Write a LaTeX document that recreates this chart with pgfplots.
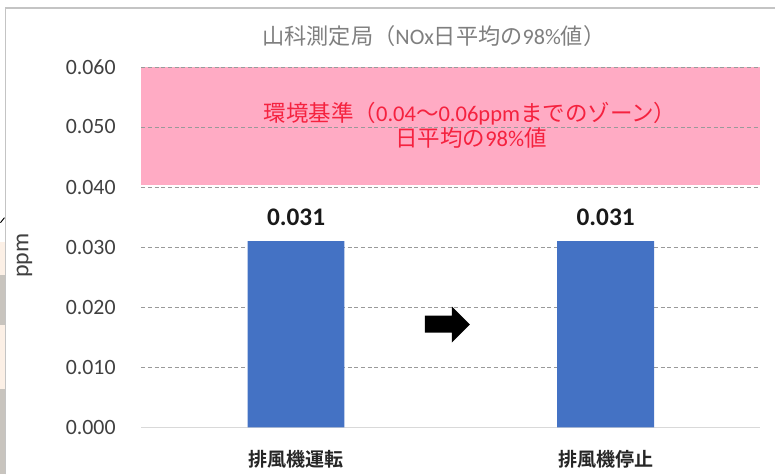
\documentclass[border=0pt]{standalone}
\usepackage{pgfplots}
\pgfplotsset{compat=1.18}
\usepackage{fontspec}
\setmainfont{Carlito}
\newfontfamily\cjk{Noto Sans CJK JP}
\newfontfamily\cjkb{Noto Sans CJK JP Bold}
\definecolor{zone}{HTML}{FFABC4}
\definecolor{zonetext}{HTML}{F5223F}
\definecolor{barblue}{HTML}{4472C4}
\definecolor{titlegray}{HTML}{7F7F7F}
\definecolor{ticktext}{HTML}{404040}
\definecolor{framegray}{HTML}{C4C4C4}
\definecolor{gridgray}{HTML}{9A9A9A}
\definecolor{stripbeige}{HTML}{FCF0E6}
\definecolor{stripgray}{HTML}{C8C4BE}
\begin{document}
\begin{tikzpicture}[x=0.75pt,y=0.75pt]
  % page area and chart frame (units are pixels, origin at lower left)
  \path (0,0) rectangle (776,475);
  \fill[stripbeige] (0,0) rectangle (4.5,233);
  \fill[stripgray] (0,0) rectangle (4.5,85);
  \fill[stripgray] (0,150) rectangle (4.5,200);
  \draw[black,line width=0.7pt] (0,252) -- (4,257);
  \draw[framegray,line width=0.9pt] (5,0) -- (5,467) -- (776,467);
  \begin{axis}[
    at={(105.75pt,35.25pt)}, anchor=south west,
    scale only axis, width=465pt, height=270.75pt,
    set layers,
    xmin=-0.5, xmax=1.5, ymin=0, ymax=0.06,
    xtick={0,1}, xticklabels={{\cjkb 排風機運転},{\cjkb 排風機停止}},
    ytick={0,0.01,0.02,0.03,0.04,0.05,0.06},
    scaled y ticks=false,
    tick label style={font=\fontsize{16.4pt}{18pt}\selectfont, text=ticktext},
    yticklabel style={/pgf/number format/.cd,fixed,fixed zerofill,precision=3,assume math mode=true,/tikz/.cd,xshift=-15.75pt},
    xticklabel style={font=\fontsize{14.3pt}{16pt}\selectfont, text=black!85, yshift=-14pt},
    major tick length=0pt,
    ymajorgrids, grid style={gridgray,line width=0.6pt,dash pattern=on 3pt off 2pt},
    axis y line=left, axis x line=bottom,
    y axis line style={draw=none},
    x axis line style={draw=black!15,line width=0.8pt,-},
    clip=false,
  ]
    % standard's zone, kept beneath the grid
    \addplot[on layer=axis background, draw=none, fill=zone, forget plot]
      coordinates {(-0.5,0.0404) (1.5,0.0404) (1.5,0.06) (-0.5,0.06)} -- cycle;
    % measured values with their labels
    \addplot[ybar, bar width=72.75pt, fill=barblue, draw=none,
      nodes near coords,
      nodes near coords style={font=\fontsize{19pt}{20pt}\selectfont\bfseries,text=black!90,
        /pgf/number format/.cd,fixed,fixed zerofill,precision=3,assume math mode=true,/tikz/.cd,yshift=8pt}]
      coordinates {(0,0.031) (1,0.031)};
    \node[font=\fontsize{16.9pt}{18pt}\selectfont,text=zonetext,anchor=center] at (axis cs:0.562,0.0522)
      {{\cjk 環境基準（}0.04{\cjk ～}0.06ppm{\cjk までのゾーン）}};
    \node[font=\fontsize{16.9pt}{18pt}\selectfont,text=zonetext,anchor=center] at (axis cs:0.565,0.0482)
      {{\cjk 日平均の}98\%{\cjk 値}};
  \end{axis}
  % chart title and unit
  \node[font=\fontsize{16.65pt}{18pt}\selectfont,text=titlegray,anchor=center] at (434,439)
    {{\cjk 山科測定局（}NOx{\cjk 日平均の}98\%{\cjk 値）}};
  \node[font=\fontsize{18pt}{18pt}\selectfont,text=ticktext,rotate=90,anchor=center] at (24,219) {ppm};
  % block arrow between the two bars
  \fill[black] (425,159) -- (452,159) -- (452,168) -- (470,150) -- (452,132) -- (452,142) -- (425,142) -- cycle;
\end{tikzpicture}
\end{document}
